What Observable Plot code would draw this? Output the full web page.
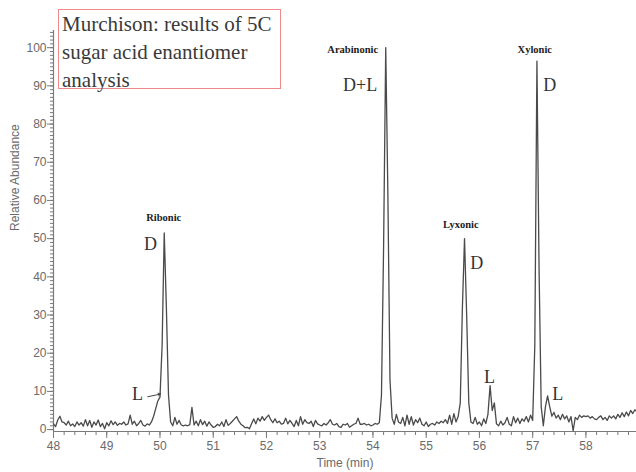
<!DOCTYPE html>
<html>
<head>
<meta charset="utf-8">
<script src="https://cdn.jsdelivr.net/npm/d3@7"></script>
<script src="https://cdn.jsdelivr.net/npm/@observablehq/plot@0.6"></script>
<style>
  html, body { margin: 0; padding: 0; background: #fff; }
  #wrap { position: relative; width: 636px; height: 472px; }
  #title {
    position: absolute; left: 58px; top: 9px; width: 223px; height: 80px;
    border: 1.5px solid #f08a8a; font-family: "Liberation Serif", serif;
    font-size: 21px; line-height: 28px; color: #3a3a3a; padding: 0 0 0 3px;
    box-sizing: border-box; overflow: visible; background: #fff;
  }
</style>
</head>
<body>
<div id="wrap">
  <div id="chart"></div>
  <div id="title">Murchison: results of 5C sugar acid enantiomer analysis</div>
</div>
<script>
// Chromatogram: sampled every 0.04 min starting at 48.00 min
const startTime = 48;
const sampleStep = 0.04;
const abundance = [
  1.5, 0.8, 2.5, 3.5, 2.0, 1.8, 1.2, 2.2, 1.0, 1.5,
  0.8, 2.0, 1.2, 1.8, 0.9, 2.6, 1.0, 2.4, 0.6, 2.0,
  1.2, 2.5, 0.8, 1.6, 0.2, 1.8, 1.0, 2.3, 1.3, 2.0,
  1.1, 1.6, 1.4, 2.0, 1.2, 1.5, 3.8, 1.4, 2.2, 1.0,
  1.6, 2.4, 1.2, 0.9, 1.5, 1.2, 2.0, 3.5, 5.5, 7.5,
  8.5, 22, 51.5, 32, 9, 2.0, 1.0, 3.2, 1.4, 2.4,
  1.2, 1.0, 1.2, 1.0, 1.3, 5.8, 1.2, 2.2, 1.0, 2.6,
  1.3, 2.2, 0.9, 2.0, 1.2, 0.6, 0.8, 1.4, 1.0, 2.0,
  0.8, 2.6, 1.1, 1.6, 2.2, 2.8, 3.4, 2.2, 1.4, 1.0,
  0.5, 0.6, 0.2, 1.5, 2.8, 1.5, 3.0, 2.2, 3.4, 2.4,
  3.2, 3.8, 2.6, 1.8, 2.8, 1.8, 2.2, 1.4, 1.6, 3.0,
  1.5, 2.4, 1.6, 0.8, 2.4, 1.0, 3.4, 1.4, 2.6, 1.8,
  1.6, 2.2, 0.8, 2.4, 1.5, 1.2, 1.0, 1.6, 1.2, 1.8,
  2.6, 1.4, 1.2, 1.6, 0.8, 0.6, 1.4, 1.2, 1.6, 0.6,
  1.0, 1.4, 1.6, 3.0, 1.4, 1.4, 1.6, 1.2, 1.4, 1.0,
  1.2, 1.6, 1.4, 1.8, 9, 48, 100, 62, 13, 3.0,
  1.4, 4.0, 2.0, 1.6, 3.2, 1.0, 3.8, 1.4, 3.4, 1.2,
  2.6, 1.8, 3.0, 1.4, 1.0, 2.0, 0.8, 1.4, 1.6, 1.2,
  2.0, 1.6, 2.2, 1.8, 2.6, 1.6, 3.8, 1.4, 4.2, 2.0,
  3.4, 7, 32, 50, 30, 7, 2.0, 1.6, 3.2, 1.4,
  2.0, 1.0, 2.8, 1.6, 4, 11.5, 5, 7, 1.5, 1.0,
  2.2, 1.2, 1.8, 3.2, 1.4, 1.0, 3.4, 1.8, 3.0, 1.6,
  2.8, 2.2, 3.4, 2.0, 3.8, 2.4, 22, 96.5, 42, 6,
  1.0, 6, 8.8, 6, 3.5, 4.5, 3.0, 3.8, 2.6, 4.0,
  2.8, 3.6, 2.0, 3.4, -0.3, 3.2, 2.6, 3.8, 3.2, 3.6,
  3.4, 3.6, 3.0, 3.4, 2.8, 2.6, 3.2, 3.6, 2.6, 3.2,
  2.4, 3.6, 3.0, 3.6, 2.8, 4.0, 3.2, 4.4, 3.4, 4.6,
  3.6, 5.0, 4.2, 5.2, 4.6
];

// Compound names above peaks
const compoundNames = ["Ribonic", "Arabinonic", "Lyxonic", "Xylonic"];
const compoundTimes = [50.07, 53.62, 55.65, 57.04];
const compoundLevels = [55.5, 99.4, 53.6, 99.4];

// Enantiomer letters
const enantLabels = ["D", "L", "D+L", "D", "L", "D", "L"];
const enantTimes = [49.82, 49.58, 53.76, 55.95, 56.19, 57.32, 57.47];
const enantLevels = [48.6, 9.2, 90.2, 43.6, 13.8, 90.2, 9.3];

const xMajor = [48, 49, 50, 51, 52, 53, 54, 55, 56, 57, 58];
const yMajor = [0, 10, 20, 30, 40, 50, 60, 70, 80, 90, 100];

const trace = abundance.map((v, i) => ({t: startTime + i * sampleStep, v}));
const xMinor = d3.range(48, 58.95, 0.2);
const yMinor = d3.range(0, 105, 1);
const names = compoundNames.map((n, i) => ({n, t: compoundTimes[i], v: compoundLevels[i]}));
const letters = enantLabels.map((n, i) => ({n, t: enantTimes[i], v: enantLevels[i]}));

const axisColor = "#7a7a7a";
const chart = Plot.plot({
  width: 636,
  height: 472,
  marginLeft: 53,
  marginRight: 0,
  marginTop: 30,
  marginBottom: 41,
  x: {domain: [48, 58.95]},
  y: {domain: [-0.5, 104.5]},
  style: {fontFamily: "Liberation Sans, Arial, sans-serif", color: "#6a6a6a", background: "#fff"},
  marks: [
    Plot.axisX({ticks: xMinor, tickSize: 4, tickFormat: () => "", label: null, stroke: axisColor}),
    Plot.axisX({ticks: xMajor, tickSize: 7, tickPadding: 3, fontSize: 12, label: null, stroke: axisColor, tickFormat: d => d}),
    Plot.axisY({ticks: yMinor, tickSize: 3, tickFormat: () => "", label: null, stroke: axisColor}),
    Plot.axisY({ticks: yMajor, tickSize: 6, tickPadding: 1, fontSize: 12, label: null, stroke: axisColor, tickFormat: d => d}),
    Plot.ruleY([-0.5], {stroke: axisColor, strokeWidth: 1.2}),
    Plot.ruleX([48], {stroke: axisColor, strokeWidth: 1.2}),
    Plot.text(["Time (min)"], {frameAnchor: "bottom", dy: 35, fontSize: 12, fill: "#6a6a6a"}),
    Plot.text(["Relative Abundance"], {frameAnchor: "left", dx: -38, rotate: -90, fontSize: 12, fill: "#6a6a6a"}),
    Plot.line(trace, {x: "t", y: "v", stroke: "#4a4a4a", strokeWidth: 1.3}),
    Plot.arrow([{t1: 49.77, v1: 8.6, t2: 50.01, v2: 9.3}], {x1: "t1", y1: "v1", x2: "t2", y2: "v2", stroke: "#444", headLength: 4, strokeWidth: 1}),
    Plot.text(names, {x: "t", y: "v", text: "n", fontFamily: "Liberation Serif, serif", fontWeight: "bold", fontSize: 10.5, fill: "#222"}),
    Plot.text(letters, {x: "t", y: "v", text: "n", fontFamily: "Liberation Serif, serif", fontSize: 18, fill: "#333"})
  ]
});
document.getElementById("chart").appendChild(chart);
</script>
</body>
</html>
